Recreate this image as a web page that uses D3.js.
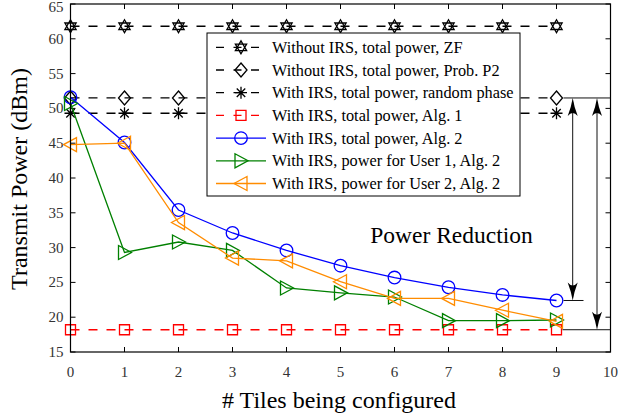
<!DOCTYPE html>
<html>
<head>
<meta charset="utf-8">
<script src="https://cdn.jsdelivr.net/npm/d3@7"></script>
</head>
<body style="margin:0">
<svg id="chart" width="618" height="419" style="display:block;background:#fff"></svg>
<script>
// Number of configured tiles
const tiles = [0, 1, 2, 3, 4, 5, 6, 7, 8, 9];

// Transmit power (dBm) per scheme
const withoutIrsZF      = [61.8, 61.8, 61.8, 61.8, 61.8, 61.8, 61.8, 61.8, 61.8, 61.8];
const withoutIrsProbP2  = [51.5, 51.5, 51.5, 51.5, 51.5, 51.5, 51.5, 51.5, 51.5, 51.5];
const withIrsRandom     = [49.3, 49.3, 49.3, 49.3, 49.3, 49.3, 49.3, 49.3, 49.3, 49.3];
const withIrsAlg1       = [18.2, 18.2, 18.2, 18.2, 18.2, 18.2, 18.2, 18.2, 18.2, 18.2];
const withIrsAlg2Total  = [51.6, 45.1, 35.4, 32.1, 29.6, 27.4, 25.7, 24.3, 23.2, 22.4];
const withIrsAlg2User1  = [50.7, 29.3, 30.8, 29.6, 24.2, 23.5, 22.9, 19.5, 19.5, 19.6];
const withIrsAlg2User2  = [44.8, 45.0, 33.6, 28.5, 28.1, 25.1, 22.7, 22.7, 21.0, 19.4];

const xTicks = [0, 1, 2, 3, 4, 5, 6, 7, 8, 9, 10];
const yTicks = [15, 20, 25, 30, 35, 40, 45, 50, 55, 60, 65];

const seriesLabels = [
  "Without IRS, total power, ZF",
  "Without IRS, total power, Prob. P2",
  "With IRS, total power, random phase",
  "With IRS, total power, Alg. 1",
  "With IRS, total power, Alg. 2",
  "With IRS, power for User 1, Alg. 2",
  "With IRS, power for User 2, Alg. 2"
];

const series = [
  { name: seriesLabels[0], values: withoutIrsZF,     color: "#000",    dash: "9,9", marker: "hexagram" },
  { name: seriesLabels[1], values: withoutIrsProbP2, color: "#000",    dash: "9,9", marker: "diamond" },
  { name: seriesLabels[2], values: withIrsRandom,    color: "#000",    dash: "9,9", marker: "asterisk" },
  { name: seriesLabels[3], values: withIrsAlg1,      color: "#ff0000", dash: "9,9", marker: "square" },
  { name: seriesLabels[4], values: withIrsAlg2Total, color: "#0000ff", dash: null,  marker: "circle" },
  { name: seriesLabels[5], values: withIrsAlg2User1, color: "#008000", dash: null,  marker: "triRight" },
  { name: seriesLabels[6], values: withIrsAlg2User2, color: "#ff8c00", dash: null,  marker: "triLeft" }
];

const SERIF = '"Liberation Serif"';

const margin = { left: 70.5, right: 7.5, top: 4, bottom: 67 };
const W = 618, H = 419;
const svg = d3.select("#chart");

const x = d3.scaleLinear().domain([0, 10]).range([margin.left, W - margin.right]);
const y = d3.scaleLinear().domain([15, 65]).range([H - margin.bottom, margin.top]);

// Marker path generators (centered at 0,0)
function markerPath(type) {
  switch (type) {
    case "hexagram": {
      const r = 6.5;
      const tri = (rot) => d3.range(3).map(i => {
        const a = rot + i * 2 * Math.PI / 3;
        return [r * Math.sin(a), -r * Math.cos(a)];
      });
      const t1 = tri(0), t2 = tri(Math.PI);
      return "M" + t1.join("L") + "Z" + "M" + t2.join("L") + "Z";
    }
    case "diamond":
      return "M0,-7L6,0L0,7L-6,0Z";
    case "asterisk": {
      const r = 6;
      const d = r * Math.SQRT1_2;
      return `M0,${-r}L0,${r}M${-r},0L${r},0M${-d},${-d}L${d},${d}M${-d},${d}L${d},${-d}`;
    }
    case "square":
      return "M-5,-5L5,-5L5,5L-5,5Z";
    case "circle":
      return d3.symbol(d3.symbolCircle, Math.PI * 6.3 * 6.3)();
    case "triRight":
      return "M-6,-7L7,0L-6,7Z";
    case "triLeft":
      return "M6,-7L-7,0L6,7Z";
  }
}

// Frame ticks (inward on all four sides)
const tickLen = 5;
const frame = svg.append("g").attr("stroke", "#000").attr("stroke-width", 1);
xTicks.forEach(t => {
  frame.append("line").attr("x1", x(t)).attr("x2", x(t))
    .attr("y1", y(15)).attr("y2", y(15) - tickLen);
  frame.append("line").attr("x1", x(t)).attr("x2", x(t))
    .attr("y1", y(65)).attr("y2", y(65) + tickLen);
});
yTicks.forEach(t => {
  frame.append("line").attr("x1", x(0)).attr("x2", x(0) + tickLen)
    .attr("y1", y(t)).attr("y2", y(t));
  frame.append("line").attr("x1", x(10)).attr("x2", x(10) - tickLen)
    .attr("y1", y(t)).attr("y2", y(t));
});

// Tick labels
svg.append("g").selectAll("text").data(xTicks).join("text")
  .attr("x", d => x(d)).attr("y", 377)
  .attr("text-anchor", "middle").attr("font-size", 15).attr("fill", "#333")
  .style("font-family", SERIF)
  .text(d => d);
svg.append("g").selectAll("text").data(yTicks).join("text")
  .attr("x", 63.5).attr("y", d => Math.max(y(d) + 5, 12))
  .attr("text-anchor", "end").attr("font-size", 15).attr("fill", "#333")
  .style("font-family", SERIF)
  .text(d => d);

// Axis titles
svg.append("text").attr("x", 339).attr("y", 408)
  .attr("text-anchor", "middle").attr("font-size", 24)
  .style("font-family", SERIF).text("# Tiles being configured");
svg.append("text")
  .attr("transform", `translate(27,179) rotate(-90)`)
  .attr("text-anchor", "middle").attr("font-size", 24)
  .style("font-family", SERIF).text("Transmit Power (dBm)");

// Series lines and markers
const line = d3.line().x((d, i) => x(tiles[i])).y(d => y(d));
const plot = svg.append("g");
series.forEach(s => {
  plot.append("path").datum(s.values)
    .attr("d", line).attr("fill", "none")
    .attr("stroke", s.color).attr("stroke-width", 1.3)
    .attr("stroke-dasharray", s.dash);
  plot.append("g").selectAll("path").data(s.values).join("path")
    .attr("transform", (d, i) => `translate(${x(tiles[i])},${y(d)})`)
    .attr("d", markerPath(s.marker))
    .attr("fill", "none").attr("stroke", s.color).attr("stroke-width", 1.3);
});

// Plot border
svg.append("rect")
  .attr("x", x(0)).attr("y", y(65))
  .attr("width", x(10) - x(0)).attr("height", y(15) - y(65))
  .attr("fill", "none").attr("stroke", "#000").attr("stroke-width", 1.2);

// Legend
const legend = svg.append("g");
const lgX = 207, lgY = 33, lgW = 313, lgH = 163;
legend.append("rect").attr("x", lgX).attr("y", lgY).attr("width", lgW).attr("height", lgH)
  .attr("fill", "#fff").attr("stroke", "#000").attr("stroke-width", 1);
series.forEach((s, i) => {
  const ry = 47.3 + i * 22.7;
  legend.append("line").attr("x1", 216).attr("x2", 266).attr("y1", ry).attr("y2", ry)
    .attr("stroke", s.color).attr("stroke-width", 1.3)
    .attr("stroke-dasharray", s.dash ? "8,9.5" : null);
  legend.append("path").attr("transform", `translate(241,${ry})`)
    .attr("d", markerPath(s.marker))
    .attr("fill", "none").attr("stroke", s.color).attr("stroke-width", 1.3);
  legend.append("text").attr("x", 272).attr("y", ry + 5.5)
    .attr("font-size", 16.3).attr("fill", "#000")
    .style("font-family", SERIF).text(s.name);
});

// Power reduction annotation: guide lines and double-headed arrows
const xEnd = tiles[tiles.length - 1];
const topLevel = withoutIrsProbP2[xEnd];
const alg2Level = withIrsAlg2Total[xEnd];
const alg1Level = withIrsAlg1[xEnd];
const ann = svg.append("g").attr("stroke", "#111").attr("stroke-width", 1);
ann.append("line").attr("x1", x(xEnd) + 7).attr("x2", x(10)).attr("y1", y(topLevel)).attr("y2", y(topLevel));
ann.append("line").attr("x1", x(xEnd) + 7).attr("x2", x(9.5)).attr("y1", y(alg2Level)).attr("y2", y(alg2Level));
ann.append("line").attr("x1", x(xEnd) + 6).attr("x2", x(10)).attr("y1", y(alg1Level)).attr("y2", y(alg1Level));

function arrowHead(cx, tipY, dir) {
  // dir = +1 points down, -1 points up
  const L = 18, w = 5;
  const p = `M0,0 Q-1.2,${-dir * 8} ${-w},${-dir * L} Q0,${-dir * 12} ${w},${-dir * L} Q1.2,${-dir * 8} 0,0Z`;
  svg.append("path").attr("transform", `translate(${cx},${tipY})`)
    .attr("d", p).attr("fill", "#000").attr("stroke", "none");
}
function doubleArrow(cx, v1, v2) {
  const y1 = y(v1), y2 = y(v2);
  ann.append("line").attr("x1", cx).attr("x2", cx).attr("y1", y1 + 4).attr("y2", y2 - 4);
  arrowHead(cx, y1, -1);
  arrowHead(cx, y2, 1);
}
doubleArrow(x(9.3), topLevel, alg2Level);
doubleArrow(x(9.75), topLevel, alg1Level);

svg.append("text").attr("x", 451.5).attr("y", 243)
  .attr("text-anchor", "middle").attr("font-size", 23.5)
  .style("font-family", SERIF).text("Power Reduction");
</script>
</body>
</html>
